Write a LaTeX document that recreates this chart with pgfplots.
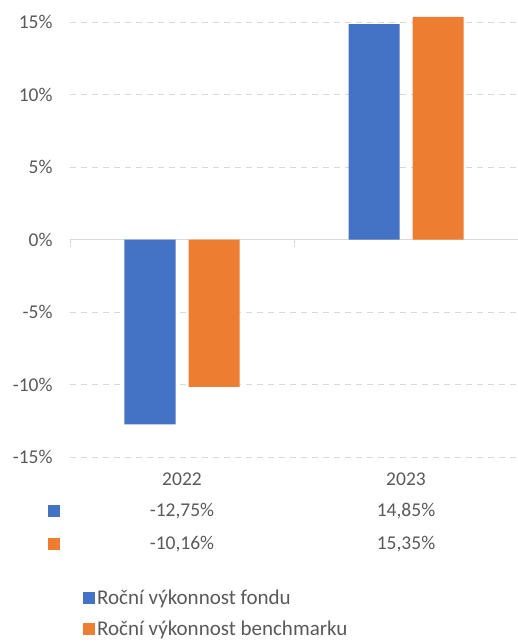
\documentclass[border=0pt]{standalone}
\usepackage{fontspec}
\setmainfont{Carlito}
\usepackage{pgfplots}
\pgfplotsset{compat=1.18}
\definecolor{fundblue}{HTML}{4472C4}
\definecolor{benchorange}{HTML}{ED7D31}
\definecolor{txtgray}{HTML}{595959}
\definecolor{gridgray}{HTML}{D9D9D9}
\begin{document}
\begin{tikzpicture}[x=1pt,y=1pt]
\useasboundingbox (0,0) rectangle (518,641);
\begin{axis}[
  at={(70pt,184pt)}, anchor=south west,
  scale only axis, width=448pt, height=435pt,
  ymin=-15, ymax=15, xmin=-0.5, xmax=1.5,
  ytick={-15,-10,...,15},
  yticklabels={-15\%,-10\%,-5\%,0\%,5\%,10\%,15\%},
  xtick={0,1}, xticklabels={2022,2023},
  axis line style={draw=none},
  major tick length=0pt,
  ymajorgrids,
  grid style={gridgray, line width=0.9pt, dash pattern=on 6pt off 5pt},
  ybar=13pt, bar width=51pt,
  clip=false,
  tick label style={font=\fontsize{19.5}{23}\selectfont, text=txtgray},
  yticklabel style={xshift=-14pt},
  xticklabel style={yshift=-12pt},
  legend cell align=left,
  legend style={draw=none, fill=none, at={(0.029,-0.300)}, anchor=north west,
    inner sep=0pt, row sep=11pt, font=\fontsize{21}{24}\selectfont, text=txtgray,
    /tikz/every even column/.append style={column sep=4pt}},
]
\draw[gridgray, line width=0.9pt] (axis cs:-0.5,0) -- (axis cs:1.5,0);
\draw[gridgray, line width=0.9pt] (axis cs:-0.5,0) -- (axis cs:-0.5,-0.5);
\draw[gridgray, line width=0.9pt] (axis cs:0.5,0) -- (axis cs:0.5,-0.5);
\draw[gridgray, line width=0.9pt] (axis cs:1.5,0) -- (axis cs:1.5,-0.5);
\addplot[fill=fundblue, draw=none,
  legend image code/.code={\fill[fundblue] (0pt,-6pt) rectangle (12pt,6pt);}]
  coordinates {(0,-12.75) (1,14.85)};
\addplot[fill=benchorange, draw=none,
  legend image code/.code={\fill[benchorange] (0pt,-6pt) rectangle (12pt,6pt);}]
  coordinates {(0,-10.16) (1,15.35)};
\legend{Roční výkonnost fondu, Roční výkonnost benchmarku}
\node[font=\fontsize{19.5}{23}\selectfont, text=txtgray] at (axis cs:0,-18.72) {-12,75\%};
\node[font=\fontsize{19.5}{23}\selectfont, text=txtgray] at (axis cs:1,-18.72) {14,85\%};
\node[font=\fontsize{19.5}{23}\selectfont, text=txtgray] at (axis cs:0,-21.0) {-10,16\%};
\node[font=\fontsize{19.5}{23}\selectfont, text=txtgray] at (axis cs:1,-21.0) {15,35\%};
\fill[fundblue] (axis cs:-0.571,-18.72) ++(-6pt,-6pt) rectangle ++(12pt,12pt);
\fill[benchorange] (axis cs:-0.571,-21.0) ++(-6pt,-6pt) rectangle ++(12pt,12pt);
\end{axis}
\end{tikzpicture}
\end{document}
